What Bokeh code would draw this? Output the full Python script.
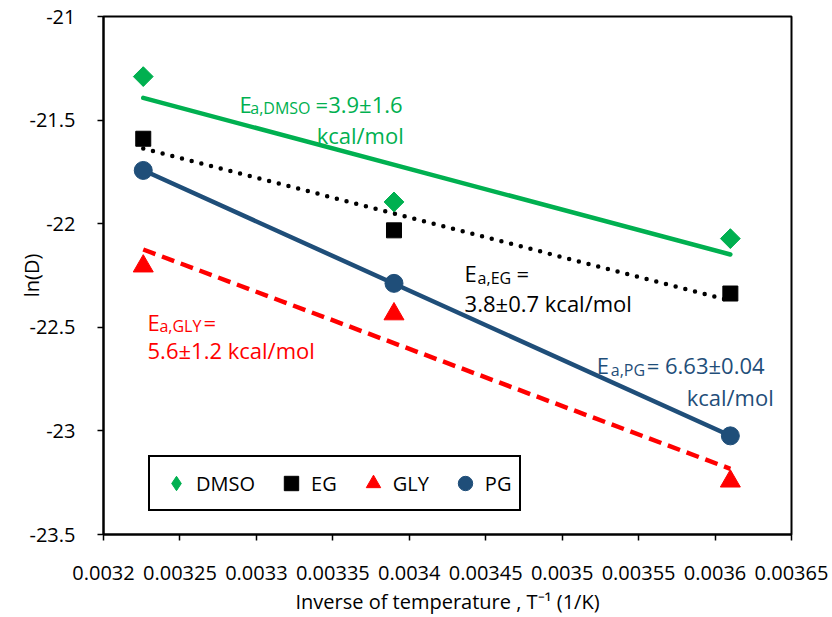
import numpy as np
from bokeh.plotting import figure
from bokeh.models import Range1d, FixedTicker, Legend, LegendItem, Label
from bokeh.embed import file_html
from bokeh.resources import INLINE

# ---------------- data ----------------
inv_T = [0.003226, 0.003390, 0.003610]          # 1/K  (310 K, 295 K, 277 K)
ln_D_dmso = [-21.290, -21.895, -22.072]
ln_D_eg = [-21.590, -22.032, -22.337]
ln_D_gly = [-22.205, -22.436, -23.243]
ln_D_pg = [-21.743, -22.288, -23.024]

x_ticks = [0.0032, 0.00325, 0.0033, 0.00335, 0.0034, 0.00345, 0.0035, 0.00355, 0.0036, 0.00365]
x_tick_labels = ["0.0032", "0.00325", "0.0033", "0.00335", "0.0034", "0.00345",
                 "0.0035", "0.00355", "0.0036", "0.00365"]
y_ticks = [-23.5, -23.0, -22.5, -22.0, -21.5, -21.0]
y_tick_labels = ["-23.5", "-23", "-22.5", "-22", "-21.5", "-21"]

series_names = ["DMSO", "EG", "GLY", "PG"]

FONT = "Open Sans"
GREEN = "#00B050"
BLACK = "#000000"
RED = "#FF0000"
BLUE = "#1F4E79"

p = figure(width=832, height=617, output_backend="svg", toolbar_location=None,
           x_range=Range1d(0.0032, 0.00365), y_range=Range1d(-23.5, -21.0),
           min_border_left=103, min_border_right=41, min_border_top=16, min_border_bottom=82)
p.grid.visible = False
p.outline_line_color = "black"
p.outline_line_width = 2
p.background_fill_color = "white"
p.border_fill_color = "white"

for ax in (p.xaxis[0], p.yaxis[0]):
    ax.axis_line_width = 2
    ax.axis_line_color = "black"
    ax.major_tick_out = 6
    ax.major_tick_in = 0
    ax.minor_tick_out = 0
    ax.minor_tick_in = 0
    ax.major_tick_line_width = 1.5
    ax.major_tick_line_color = "black"
    ax.major_label_text_font = FONT
    ax.major_label_text_font_size = "20px"
    ax.major_label_text_color = "black"
    ax.axis_label_text_font = FONT
    ax.axis_label_text_font_size = "20px"
    ax.axis_label_text_font_style = "normal"
    ax.axis_label_text_color = "black"

p.xaxis.ticker = FixedTicker(ticks=x_ticks)
p.xaxis.major_label_overrides = dict(zip(x_ticks, x_tick_labels))
p.yaxis.ticker = FixedTicker(ticks=y_ticks)
p.yaxis.major_label_overrides = dict(zip(y_ticks, y_tick_labels))
p.xaxis.major_label_standoff = 25
p.yaxis.major_label_standoff = 22
p.xaxis.axis_label = "Inverse of temperature , T\u207b\u00b9 (1/K)"
p.yaxis.axis_label = "ln(D)"
p.xaxis.axis_label_standoff = 5
p.yaxis.axis_label_standoff = -18

# ---------------- trend lines (least-squares fits of the data) ----------------
x_arr = np.array(inv_T)
x_ends = np.array([x_arr.min(), x_arr.max()])

def fit_line(yvals):
    m, b = np.polyfit(x_arr, np.array(yvals), 1)
    return m * x_ends + b

p.line(x_ends, fit_line(ln_D_dmso), line_color=GREEN, line_width=4.5, line_cap="round")
p.line(x_ends, fit_line(ln_D_eg), line_color=BLACK, line_width=4.5, line_dash="0 10", line_cap="round")
p.line(x_ends, fit_line(ln_D_gly), line_color=RED, line_width=4.5, line_dash="13 7")
p.line(x_ends, fit_line(ln_D_pg), line_color=BLUE, line_width=4.5, line_cap="round")

# ---------------- markers ----------------
# diamond renderer (used by the legend; legend swatches are never rotated),
# covered on the plot by the rotated-square markers drawn on top of it
r_dmso = p.scatter(inv_T, ln_D_dmso, marker="diamond", size=19, fill_color=GREEN, line_color=GREEN)
p.scatter(inv_T, ln_D_dmso, marker="square", angle=np.pi / 4, size=14,
          fill_color=GREEN, line_color=GREEN)
r_eg = p.scatter(inv_T, ln_D_eg, marker="square", size=15, fill_color=BLACK, line_color=BLACK)
r_gly = p.scatter(inv_T, ln_D_gly, marker="triangle", size=20, fill_color=RED, line_color=RED)
r_pg = p.scatter(inv_T, ln_D_pg, marker="circle", size=18, fill_color=BLUE, line_color=BLUE)

legend = Legend(items=[LegendItem(label=n, renderers=[r]) for n, r in
                       zip(series_names, [r_dmso, r_eg, r_gly, r_pg])],
                orientation="horizontal", location=(45, 23),
                padding=8, glyph_width=36, glyph_height=36, label_standoff=2, spacing=18,
                border_line_color="black", border_line_width=2, border_line_alpha=1,
                background_fill_color="white", background_fill_alpha=1,
                label_text_font=FONT, label_text_font_size="20px", label_text_color="black")
p.add_layout(legend)

# ---------------- annotations ----------------
def add_label(x, y, text, color, size="22px", align="left"):
    p.add_layout(Label(x=x, y=y, text=text, text_color=color, text_font=FONT,
                       text_font_size=size, text_baseline="alphabetic", text_align=align))

# DMSO
add_label(0.0032890, -21.420, "E", GREEN)
add_label(0.0032960, -21.444, "a,DMSO", GREEN, "16px")
add_label(0.0033387, -21.420, "=3.9\u00b11.6", GREEN)
add_label(0.0033394, -21.574, "kcal/mol", GREEN)
# EG
add_label(0.0034362, -22.2387, "E", BLACK)
add_label(0.0034447, -22.263, "a,EG", BLACK, "16px")
add_label(0.0034702, -22.2387, "=", BLACK)
add_label(0.0034362, -22.383, "3.8\u00b10.7 kcal/mol", BLACK)
# GLY
add_label(0.0032288, -22.4745, "E", RED)
add_label(0.0032366, -22.494, "a,GLY", RED, "16px")
add_label(0.0032654, -22.4745, "=", RED)
add_label(0.0032288, -22.609, "5.6\u00b11.2 kcal/mol", RED)
# PG
add_label(0.0035226, -22.6816, "E", BLUE)
add_label(0.0035318, -22.7056, "a,PG", BLUE, "16px")
add_label(0.0035553, -22.6816, "= 6.63\u00b10.04", BLUE)
add_label(0.0036384, -22.8356, "kcal/mol", BLUE, align="right")

open("out.html", "w").write(file_html(p, INLINE))
